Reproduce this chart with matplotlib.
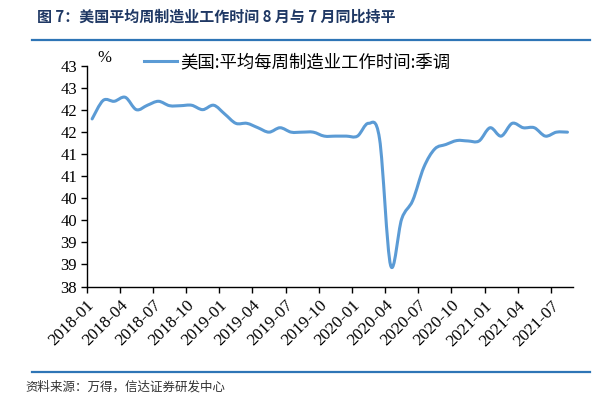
import numpy as np
import matplotlib
matplotlib.use("Agg")
import matplotlib.pyplot as plt
from matplotlib.path import Path
from matplotlib.patches import PathPatch
from matplotlib.lines import Line2D
from matplotlib.transforms import ScaledTranslation

# 美国:平均每周制造业工作时间:季调, 2018-01 .. 2021-08 (monthly)
hours = [41.80, 42.22, 42.20, 42.29, 42.01, 42.11, 42.20, 42.10, 42.10, 42.11,
         42.01, 42.11, 41.91, 41.70, 41.70, 41.60, 41.50, 41.60, 41.50, 41.50,
         41.50, 41.41, 41.41, 41.41, 41.41, 41.70, 41.35, 38.48, 39.53, 39.95,
         40.70, 41.12, 41.22, 41.31, 41.30, 41.30, 41.60, 41.41, 41.70, 41.60,
         41.60, 41.41, 41.50, 41.50]
x_labels = ["2018-01", "2018-04", "2018-07", "2018-10", "2019-01", "2019-04",
            "2019-07", "2019-10", "2020-01", "2020-04", "2020-07", "2020-10",
            "2021-01", "2021-04", "2021-07"]
y_ticks = [38.0, 38.5, 39.0, 39.5, 40.0, 40.5, 41.0, 41.5, 42.0, 42.5, 43.0]
y_labels = ["38", "39", "39", "40", "40", "41", "41", "42", "42", "43", "43"]

series_name = "美国:平均每周制造业工作时间:季调"
title = "图 7：美国平均周制造业工作时间 8 月与 7 月同比持平"
source = "资料来源：万得，信达证券研发中心"

line_color = "#5B9BD5"
cjk = ["Noto Sans CJK SC", "DejaVu Sans"]
serif = "Liberation Serif"

W, H = 613, 399
fig = plt.figure(figsize=(W / 100, H / 100), dpi=100)
ax = fig.add_axes([86.6 / W, 1 - 286.5 / H, (573 - 86.6) / W, (286.5 - 66) / H])

# smoothed line (Catmull-Rom through the data points, drawn as cubic Bezier)
x = np.arange(len(hours), dtype=float)
y = np.array(hours)
pts = np.column_stack([x, y])
ext = np.vstack([pts[0], pts, pts[-1]])
verts = [tuple(pts[0])]
codes = [Path.MOVETO]
for i in range(len(pts) - 1):
    p0, p1, p2, p3 = ext[i], ext[i + 1], ext[i + 2], ext[i + 3]
    c1 = p1 + (p2 - p0) / 6
    c2 = p2 - (p3 - p1) / 6
    verts += [tuple(c1), tuple(c2), tuple(p2)]
    codes += [Path.CURVE4] * 3
ax.add_patch(PathPatch(Path(verts, codes), facecolor="none",
                       edgecolor=line_color, lw=2.2, capstyle="round",
                       joinstyle="round"))

ax.set_xlim(-0.5, len(hours) - 0.5)
ax.set_ylim(38, 43)
ax.set_xticks(np.arange(len(x_labels)) * 3 - 0.5)
ax.set_xticklabels(x_labels, rotation=45, ha="right", va="top",
                   rotation_mode="anchor", fontfamily=serif, fontsize=12.3)
shift = ScaledTranslation(6 / 100, -7 / 100, fig.dpi_scale_trans)
for lab in ax.get_xticklabels():
    lab.set_transform(lab.get_transform() + shift)
ax.set_yticks(y_ticks)
ax.set_yticklabels(y_labels, fontfamily=serif, fontsize=12)
ax.tick_params(axis="both", direction="out", length=4, width=1, color="black")
ax.tick_params(axis="x", pad=4)
ax.tick_params(axis="y", pad=3)
for side in ["top", "right"]:
    ax.spines[side].set_visible(False)
for side in ["left", "bottom"]:
    ax.spines[side].set_linewidth(1)

handle = Line2D([], [], color=line_color, lw=2.2)
ax.legend([handle], [series_name], loc="center left",
          bbox_to_anchor=(135 / W, 1 - 62 / H), bbox_transform=fig.transFigure,
          frameon=False, borderpad=0, handlelength=1.9, handletextpad=0.2,
          prop={"family": cjk, "size": 12.5})

fig.text(97 / W, 1 - 58 / H, "%", fontfamily=serif, fontsize=12,
         ha="left", va="center")

# header and footer
fig.text(37 / W, 1 - 17 / H, title, fontfamily=cjk, fontsize=10.8,
         fontweight="bold", color="#1F3864", ha="left", va="center")
fig.add_artist(Line2D([32 / W, 590 / W], [1 - 40 / H, 1 - 40 / H],
                      color="#2E75B6", lw=1.6))
fig.add_artist(Line2D([32 / W, 590 / W], [1 - 372 / H, 1 - 372 / H],
                      color="#2E75B6", lw=1.6))
fig.text(25 / W, 1 - 387 / H, source, fontfamily=cjk, fontsize=9,
         style="italic", color="#333333", ha="left", va="center")

fig.savefig("out.png", dpi=100)
